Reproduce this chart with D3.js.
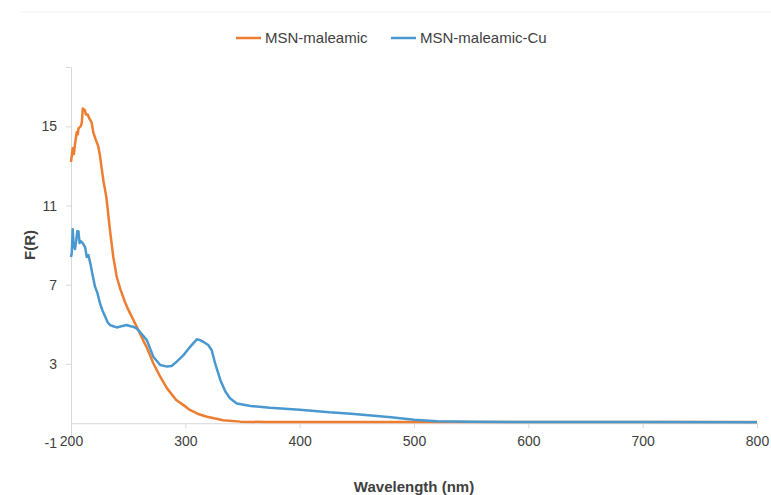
<!DOCTYPE html>
<html>
<head>
<meta charset="utf-8">
<script src="https://cdn.jsdelivr.net/npm/d3@7"></script>
<style>
  body { margin: 0; background: #fff; }
  svg text { font-family: "Liberation Sans Narrow", "Liberation Sans", Arial, sans-serif; fill: #404040; }
</style>
</head>
<body>
<svg id="chart" width="771" height="495"></svg>
<script>
// data
var seriesNames = ["MSN-maleamic", "MSN-maleamic-Cu"];
var seriesColors = ["#ED7D31", "#4A98D0"];

var wlMaleamic = [200, 201.5, 202.5, 203.5, 205, 206, 206.5, 208.5, 209.5, 210.3, 212.3, 213, 214.6, 216, 218, 219.5,
  221.8, 223.8, 225.4, 227, 228.5, 231, 234, 237, 240, 243, 247, 250, 253, 259, 263, 266, 272, 278, 284, 292,
  300, 304, 312, 319, 333, 348, 370, 400, 500, 600, 700, 800];
var frMaleamic = [13.2, 13.9, 13.6, 14.1, 14.7, 14.6, 14.9, 15.0, 15.2, 15.9, 15.8, 15.6, 15.6, 15.4, 15.2, 14.7,
  14.3, 14.0, 13.5, 12.8, 12.2, 11.4, 9.8, 8.4, 7.4, 6.8, 6.15, 5.75, 5.4, 4.7, 4.2, 3.86, 3.03, 2.35, 1.76, 1.17,
  0.85, 0.67, 0.45, 0.33, 0.15, 0.08, 0.06, 0.06, 0.06, 0.06, 0.06, 0.06];

var wlCu = [200, 200.7, 201.5, 202.3, 203.5, 204.5, 205.5, 206.5, 207.5, 208.5, 210.3, 212.3, 213.8, 215.2, 217.2,
  218.5, 221, 223, 225.4, 227.5, 229.8, 232, 234.2, 237, 240, 244, 248.8, 252, 254.6, 257, 260.5, 266.3, 272, 278,
  284, 288, 292.5, 298.4, 304.2, 310, 313, 316, 320, 323, 326, 330.5, 335, 339, 345, 350, 357, 374, 400, 426,
  445, 460, 480, 500, 520, 550, 600, 700, 800];
var frCu = [8.4, 8.6, 9.8, 9.0, 8.8, 9.2, 9.7, 9.7, 9.1, 9.2, 9.1, 8.9, 8.4, 8.5, 8.0,
  7.6, 6.9, 6.6, 6.05, 5.7, 5.4, 5.1, 4.96, 4.9, 4.84, 4.9, 4.96, 4.9, 4.87, 4.8, 4.6, 4.2, 3.36, 2.94,
  2.86, 2.89, 3.11, 3.44, 3.86, 4.24, 4.2, 4.1, 3.95, 3.7, 3.03, 2.2, 1.6, 1.26, 1.0, 0.95, 0.87, 0.78, 0.68, 0.55,
  0.48, 0.4, 0.3, 0.18, 0.1, 0.07, 0.06, 0.06, 0.05];

var xTicks = [200, 300, 400, 500, 600, 700, 800];
var yTicks = [-1, 3, 7, 11, 15];

var svg = d3.select("#chart");

var x = d3.scaleLinear().domain([200, 800]).range([71, 757]);
var y = d3.scaleLinear().domain([-1, 18]).range([443, 67]);

// faint frame line at the top
svg.append("line").attr("x1", 20).attr("x2", 771).attr("y1", 12).attr("y2", 12)
  .attr("stroke", "#f2f2f2").attr("stroke-width", 1);

// y axis
var yAxis = d3.axisLeft(y).tickValues(yTicks).tickSize(5).tickPadding(9)
  .tickFormat(function(d) { return String(d); });
var gy = svg.append("g").attr("transform", "translate(" + x(200) + ",0)").call(yAxis);
gy.select(".domain").attr("stroke", "#d9d9d9");
gy.selectAll(".tick line").attr("stroke", "#d9d9d9");
gy.selectAll(".tick text").style("font-size", "14px").attr("fill", "#404040");

// x axis crosses at 0
var xAxis = d3.axisBottom(x).tickValues(xTicks).tickSize(5).tickPadding(8);
var gx = svg.append("g").attr("transform", "translate(0," + y(0) + ")").call(xAxis);
gx.select(".domain").attr("stroke", "#d9d9d9");
gx.selectAll(".tick line").attr("stroke", "#d9d9d9");
gx.selectAll(".tick text").style("font-size", "14px").attr("fill", "#404040");

// lines
var line = d3.line().x(function(d) { return x(d[0]); }).y(function(d) { return y(d[1]); });
var series = [d3.zip(wlMaleamic, frMaleamic), d3.zip(wlCu, frCu)];
series.forEach(function(s, i) {
  svg.append("path").datum(s).attr("d", line)
    .attr("fill", "none").attr("stroke", seriesColors[i])
    .attr("stroke-width", 2.5).attr("stroke-linejoin", "round");
});

// axis titles
svg.append("text").attr("x", 414).attr("y", 492).attr("text-anchor", "middle")
  .style("font-size", "15px").style("font-weight", "bold").attr("fill", "#262626")
  .text("Wavelength (nm)");
svg.append("text").attr("transform", "translate(35,245) rotate(-90)").attr("text-anchor", "middle")
  .style("font-size", "15px").style("font-weight", "bold").attr("fill", "#262626")
  .text("F(R)");

// legend
var legendX = [236, 391];
seriesNames.forEach(function(name, i) {
  var g = svg.append("g").attr("transform", "translate(" + legendX[i] + ",38)");
  g.append("line").attr("x1", 0).attr("x2", 25).attr("y1", 0).attr("y2", 0)
    .attr("stroke", seriesColors[i]).attr("stroke-width", 2.5);
  g.append("text").attr("x", 29).attr("y", 5).style("font-size", "15px").attr("fill", "#404040").text(name);
});
</script>
</body>
</html>
